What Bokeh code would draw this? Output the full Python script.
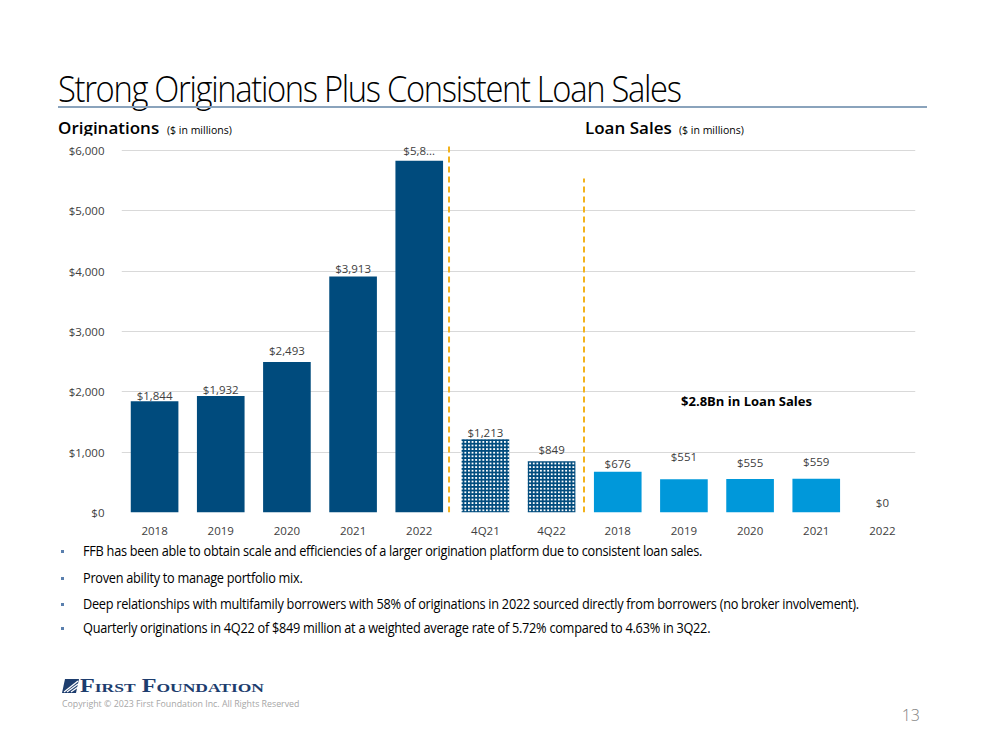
from bokeh.plotting import figure
from bokeh.layouts import column
from bokeh.models import (FactorRange, Range1d, FixedTicker, ColumnDataSource,
                          Label, Div, NumeralTickFormatter)
from bokeh.core.properties import value
from bokeh.embed import file_html
from bokeh.resources import INLINE

# ---- data ----
tick_labels = ["2018", "2019", "2020", "2021", "2022", "4Q21", "4Q22",
               "2018", "2019", "2020", "2021", "2022"]
# sales years get an invisible zero-width suffix so that factors stay unique
factors = tick_labels[:7] + [t + "\u200b" for t in tick_labels[7:]]
orig_years = factors[0:5]
orig_values = [1844, 1932, 2493, 3913, 5830]
orig_labels = ["$1,844", "$1,932", "$2,493", "$3,913", "$5,8..."]
quarter_cats = factors[5:7]
quarter_values = [1213, 849]
quarter_labels = ["$1,213", "$849"]
sale_years = factors[7:12]
sale_values = [676, 551, 555, 559, 0]
sale_labels = ["$676", "$551", "$555", "$559", "$0"]
y_ticks = [0, 1000, 2000, 3000, 4000, 5000, 6000]

title_text = "Strong Originations Plus Consistent Loan Sales"
bullets = [
    "FFB has been able to obtain scale and efficiencies of a larger origination platform due to consistent  loan sales.",
    "Proven ability to manage portfolio mix.",
    "Deep relationships with multifamily borrowers with 58% of originations in 2022 sourced directly from borrowers (no broker involvement).",
    "Quarterly originations in 4Q22 of $849 million at a weighted average rate of 5.72% compared to 4.63% in 3Q22.",
]

W = 983
TOP_H = 135
FIG_TOP = TOP_H
FRAME_TOP, FRAME_BOTTOM = 140, 513
FRAME_LEFT, FRAME_RIGHT = 121, 915
FIG_H = 405
BOT_Y0 = FIG_TOP + FIG_H
BOT_H = 194

DARK = "#004b7d"
LIGHT = "#0098da"
ORANGE = "#f2b21c"
TXT = "#404040"
FONT = "Open Sans"

y_top = 6000 * (FRAME_BOTTOM - FRAME_TOP) / 363.0

p = figure(width=W, height=FIG_H, x_range=FactorRange(factors=factors, range_padding=0),
           y_range=Range1d(0, y_top), output_backend="svg", toolbar_location=None,
           min_border_left=FRAME_LEFT, min_border_right=W - FRAME_RIGHT,
           min_border_top=FRAME_TOP - FIG_TOP,
           min_border_bottom=FIG_TOP + FIG_H - FRAME_BOTTOM, margin=0)
p.outline_line_color = None
p.background_fill_color = "white"
p.border_fill_color = "white"

p.xgrid.grid_line_color = None
p.ygrid.grid_line_color = "#d9d9d9"
p.ygrid.grid_line_width = 1
p.yaxis.ticker = FixedTicker(ticks=y_ticks)
p.yaxis.formatter = NumeralTickFormatter(format="$0,0")
for ax in (p.xaxis, p.yaxis):
    ax.axis_line_color = None
    ax.major_tick_line_color = None
    ax.minor_tick_line_color = None
    ax.major_tick_out = 0
    ax.major_tick_in = 0
    ax.major_label_text_font = FONT
    ax.major_label_text_font_size = "11.5px"
    ax.major_label_text_color = TXT
p.yaxis.major_label_standoff = 17
p.xaxis.major_label_standoff = 10

# bars
src_o = ColumnDataSource(dict(x=orig_years, top=orig_values, lab=orig_labels,
                              off=[-6, -6, -12, -8, -10]))
src_q = ColumnDataSource(dict(x=quarter_cats, top=quarter_values, lab=quarter_labels,
                              off=[-7, -12]))
src_s = ColumnDataSource(dict(x=sale_years, top=sale_values, lab=sale_labels,
                              off=[-8, -23, -17, -17, -10]))
p.vbar(x="x", top="top", width=0.72, source=src_o, fill_color=DARK, line_color=None)
p.vbar(x="x", top="top", width=0.72, source=src_q, fill_color="white", line_color=None,
       hatch_pattern="cross", hatch_color=DARK, hatch_scale=3.6, hatch_weight=1.8)
p.vbar(x="x", top="top", width=0.72, source=src_s, fill_color=LIGHT, line_color=None)
for s in (src_o, src_q, src_s):
    p.text(x="x", y="top", text="lab", y_offset="off", source=s, text_align="center",
           text_baseline="middle", text_font=value(FONT), text_font_size="11.5px",
           text_color=TXT)

# dashed separators
p.segment(x0=[(factors[4], 0.45), (factors[6], 0.49)], y0=[0, 0],
          x1=[(factors[4], 0.45), (factors[6], 0.49)], y1=[6116, 5537],
          line_color=ORANGE, line_width=2, line_dash="6 4")

p.add_layout(Label(x=746 - FRAME_LEFT, y=FRAME_BOTTOM - 401, x_units="screen",
                   y_units="screen", text="$2.8Bn in Loan Sales", text_font=FONT,
                   text_font_size="13px", text_font_style="bold", text_color="#000000",
                   text_align="center", text_baseline="middle"))


# ---- page texts (absolute positioned html) ----
def span(text, x, baseline, size, y0, color="#000", weight=400, font=FONT,
         asc=0.888, extra=""):
    top = baseline - asc * size - y0
    return (f'<div style="position:absolute;left:{x}px;top:{top:.1f}px;'
            f'font-family:\'{font}\';font-size:{size}px;line-height:1;color:{color};'
            f'font-weight:{weight};white-space:nowrap;{extra}">{text}</div>')


top_html = ['<div style="position:relative;width:%dpx;height:%dpx;">' % (W, TOP_H)]
top_html.append(span(title_text, 58, 102, 37, 0, color="#000", weight=300,
                     extra="letter-spacing:-1.5px;transform:scaleX(0.885);transform-origin:0 0;"))
top_html.append('<div style="position:absolute;left:58px;top:106px;width:869px;height:2px;'
                'background:#8aa3bc;"></div>')
top_html.append(span("Originations", 58, 134, 17, 0, weight=600))
top_html.append(span("($ in millions)", 167, 134, 10.5, 0))
top_html.append(span("Loan Sales", 585, 134, 17, 0, weight=600))
top_html.append(span("($ in millions)", 679, 134, 10.5, 0))
top_html.append('</div>')

bot_html = ['<div style="position:relative;width:%dpx;height:%dpx;">' % (W, BOT_H)]
for i, b in enumerate(bullets):
    c = [551, 578, 604, 628][i]
    bot_html.append(f'<div style="position:absolute;left:61px;top:{c - 1.5 - BOT_Y0}px;'
                    'width:3px;height:3px;background:#5a7fae;"></div>')
    bot_html.append(span(b, 83, c + 5, 14, BOT_Y0,
                         extra="letter-spacing:-0.3px;transform:scaleX(0.91);transform-origin:0 0;"))
# logo mark
bot_html.append(
    f'<svg style="position:absolute;left:62px;top:{679 - BOT_Y0}px" width="17" height="14">'
    '<polygon points="3,0 17,0 14,14 0,14" fill="#1d3d6e"/>'
    '<line x1="2" y1="13" x2="16" y2="2" stroke="#ffffff" stroke-width="1.3"/>'
    '<line x1="5" y1="13" x2="16" y2="5" stroke="#ffffff" stroke-width="1.3"/>'
    '<line x1="9" y1="13" x2="16" y2="8" stroke="#ffffff" stroke-width="1.3"/>'
    '</svg>')
bot_html.append(span("First Foundation", 80, 692, 18, BOT_Y0, color="#1d3d6e", weight=700,
                     font="Liberation Serif", asc=0.8375,
                     extra="font-variant:small-caps;transform:scaleX(1.345);transform-origin:0 0;"))
bot_html.append(span("Copyright \u00a9 2023 First Foundation Inc. All Rights Reserved",
                     62, 708, 8.8, BOT_Y0, color="#a6a6a6"))
bot_html.append(f'<div style="position:absolute;right:{W - 920}px;top:{721.5 - 0.888 * 16 - BOT_Y0:.1f}px;'
                f'font-family:\'{FONT}\';font-size:16px;line-height:1;color:#808080;'
                'font-weight:300;">13</div>')
bot_html.append('</div>')

top_div = Div(text="".join(top_html), width=W, height=TOP_H, margin=0)
bot_div = Div(text="".join(bot_html), width=W, height=BOT_H, margin=0)

layout = column(top_div, p, bot_div, spacing=0, margin=0)
open("out.html", "w").write(file_html(layout, INLINE))
